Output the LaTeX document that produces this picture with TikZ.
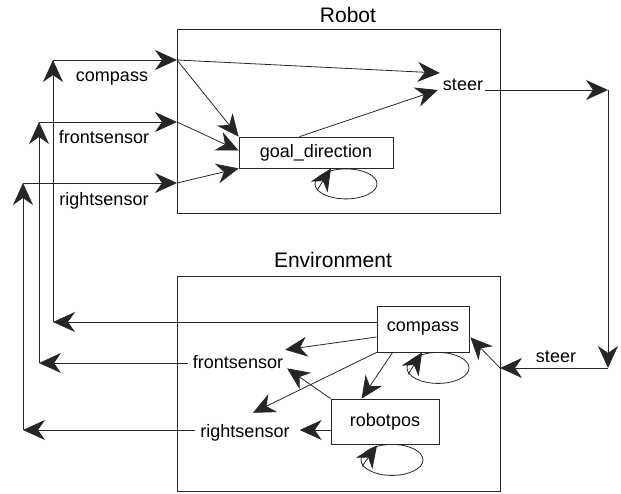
\documentclass[tikz,border=0pt]{standalone}
\usepackage{fontspec}
\setmainfont{Liberation Sans}
\usetikzlibrary{arrows.meta,calc}
\begin{document}
\begin{tikzpicture}[x=1pt,y=-1pt,
  ln/.style={line width=0.8pt, draw=black!85},
  arr/.style={ln, -{Stealth[length=22pt,width=20pt,inset=7pt]}},
  box/.style={draw=black!85, line width=0.8pt, inner sep=0pt, font=\fontsize{18}{20}\selectfont},
  lbl/.style={font=\fontsize{18}{20}\selectfont, inner sep=0pt, anchor=base},
  ttl/.style={font=\fontsize{21}{24}\selectfont, inner sep=0pt, anchor=base}
]
\useasboundingbox (0,0) rectangle (621,493);
% containers
\node[box, anchor=north west, minimum width=323pt, minimum height=184pt] (robot) at (177,29) {};
\node[box, anchor=north west, minimum width=323pt, minimum height=215pt] (env) at (177,276) {};
\node[ttl] (trob) at (348,22) {Robot};
\node[ttl] (tenv) at (333,267) {Environment};
% robot internals
\node[box, minimum width=154pt, minimum height=31pt] (goal) at (316,152.5) {goal\_direction};
\node[lbl] (steer) at (463,90) {steer};
% robot inputs labels
\node[lbl] (lc) at (112,81) {compass};
\node[lbl] (lf) at (104,143) {frontsensor};
\node[lbl] (lr) at (104,205) {rightsensor};
% environment internals
\node[box, minimum width=92pt, minimum height=46pt] (ecomp) at (423,329) {compass};
\node[box, minimum width=108pt, minimum height=45pt] (rpos) at (385,421.5) {robotpos};
\node[lbl] (efront) at (238,368) {frontsensor};
\node[lbl] (eright) at (245,437) {rightsensor};
\node[lbl] (esteer) at (556,362) {steer};
% ports and bends
\coordinate (rc) at (177,60);
\coordinate (rf) at (177,122);
\coordinate (rr) at (177,183);
\coordinate (cc) at (53,60);
\coordinate (cf) at (39,122);
\coordinate (cr) at (23,183);
\coordinate (dc) at (53,322);
\coordinate (df) at (39,363);
\coordinate (dr) at (23,430);
\coordinate (o1) at (608,90);
\coordinate (o2) at (608,368);
\coordinate (o3) at (500,368);
% feedback from environment to robot
\draw[arr] (ecomp.west |- dc) -- (dc);
\draw[arr] (dc) -- (cc);
\draw[arr] (cc) -- (rc);
\draw[arr] ([xshift=-5pt]efront.west |- df) -- (df);
\draw[arr] (df) -- (cf);
\draw[arr] (cf) -- (rf);
\draw[arr] ([xshift=-5pt]eright.west |- dr) -- (dr);
\draw[arr] (dr) -- (cr);
\draw[arr] (cr) -- (rr);
% robot internal connectors
\draw[arr] (rc) -- (goal.north west);
\draw[arr] (rf) -- ($(goal.west)+(0,-2)$);
\draw[arr] (rr) -- (goal.south west);
\draw[arr] (rc) -- ($(steer.base west)+(-3,-17)$);
\draw[arr] ($(goal.north west)+(61,0)$) -- ($(steer.base west)+(-5,0)$);
\draw[ln] ($(goal.south)+(30,15.5)$) ellipse [x radius=31, y radius=15];
\draw[arr] ($(goal.south)+(1,22)$) -- ($(goal.south)+(15,0)$);
% robot output to environment
\draw[arr] ([xshift=2pt]steer.base east) -- (o1);
\draw[arr] (o1) -- (o2);
\draw[arr] (o2) -- (o3);
\draw[arr] (o3) -- ($(ecomp.south east)+(1,-15)$);
% environment internal connectors
\draw[arr] ($(ecomp.west)+(0,8)$) -- ($(efront.north east)+(2,-5)$);
\draw[arr] (rpos.north west) -- ($(efront.south east)+(4,0)$);
\draw[arr] (ecomp.south west) -- ($(eright.north)+(8,-11)$);
\draw[arr] ($(ecomp.south west)+(16,0)$) -- ($(rpos.north west)+(31,0)$);
\draw[arr] (rpos.west |- dr) -- ([xshift=10pt]eright.east |- dr);
\draw[ln] ($(ecomp.south)+(15,15.5)$) ellipse [x radius=31, y radius=15.5];
\draw[arr] ($(ecomp.south)+(-15,22)$) -- ($(ecomp.south)+(-1,0)$);
\draw[ln] ($(rpos.south)+(7,15.5)$) ellipse [x radius=31, y radius=15.5];
\draw[arr] ($(rpos.south)+(-23,22)$) -- ($(rpos.south)+(-8,1)$);
\end{tikzpicture}
\end{document}
